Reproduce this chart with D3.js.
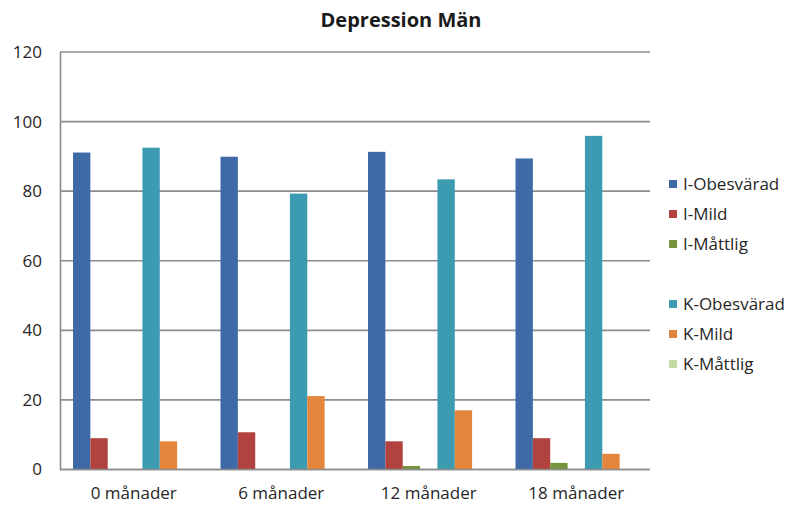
<!DOCTYPE html>
<html>
<head>
<meta charset="utf-8">
<script src="https://cdn.jsdelivr.net/npm/d3@7"></script>
<style>
  html, body { margin: 0; padding: 0; background: #fff; }
  svg { display: block; font-family: "Open Sans", "DejaVu Sans", sans-serif; }
</style>
</head>
<body>
<svg id="chart" width="792" height="506"></svg>
<script>
// Categories and series values (percent)
const categories = ["0 månader", "6 månader", "12 månader", "18 månader"];
const iObesvarad = [91.1, 89.9, 91.3, 89.4];
const iMild      = [9.0, 10.7, 8.1, 9.0];
const iMattlig   = [0, 0, 1.0, 1.9];
const spacer     = [null, null, null, null];
const kObesvarad = [92.5, 79.3, 83.4, 95.9];
const kMild      = [8.1, 21.1, 17.0, 4.5];
const kMattlig   = [0, 0, 0, 0];
const yTicks = [0, 20, 40, 60, 80, 100, 120];

const seriesNames  = ["I-Obesvärad", "I-Mild", "I-Måttlig", "", "K-Obesvärad", "K-Mild", "K-Måttlig"];
const seriesValues = [iObesvarad, iMild, iMattlig, spacer, kObesvarad, kMild, kMattlig];
const seriesColors = ["#3f6aa8", "#b2423f", "#74943e", "none", "#3d9bb1", "#e3863b", "#c4d9a3"];

const series = seriesNames.map((name, i) => ({
  key: "s" + i, name, color: seriesColors[i], values: seriesValues[i]
}));

const svg = d3.select("#chart");
const plot = { left: 60, right: 650, top: 52, bottom: 469.5 };

const x0 = d3.scaleBand().domain(categories).range([plot.left, plot.right]).paddingInner(0).paddingOuter(0);
const x1 = d3.scaleBand().domain(series.map(s => s.key)).range([0, x0.bandwidth()])
  .paddingInner(0).paddingOuter(0.75);
const y = d3.scaleLinear().domain([0, 120]).range([plot.bottom, plot.top]);

const gridColor = "#8c8c8c";
const textColor = "#262626";

// horizontal gridlines
svg.append("g")
  .selectAll("line")
  .data(yTicks)
  .join("line")
  .attr("x1", plot.left).attr("x2", plot.right)
  .attr("y1", d => y(d)).attr("y2", d => y(d))
  .attr("stroke", gridColor).attr("stroke-width", 1.6);

// value axis
const yAxis = svg.append("g")
  .attr("transform", `translate(${plot.left},0)`)
  .call(d3.axisLeft(y).tickValues(yTicks).tickSize(0).tickPadding(18));
yAxis.select(".domain").attr("stroke", gridColor).attr("stroke-width", 1.6);
yAxis.selectAll("text")
  .attr("font-size", 17).attr("fill", textColor)
  .attr("font-family", "Open Sans, sans-serif");

// bars
const groups = svg.append("g")
  .selectAll("g")
  .data(categories)
  .join("g")
  .attr("transform", c => `translate(${x0(c)},0)`);

groups.selectAll("rect")
  .data((c, ci) => series.filter(s => s.values[ci] != null && s.values[ci] > 0)
    .map(s => ({ key: s.key, color: s.color, value: s.values[ci] })))
  .join("rect")
  .attr("x", d => x1(d.key))
  .attr("width", x1.bandwidth())
  .attr("y", d => y(d.value))
  .attr("height", d => y(0) - y(d.value))
  .attr("fill", d => d.color);

// category axis baseline
svg.append("line")
  .attr("x1", plot.left).attr("x2", plot.right)
  .attr("y1", y(0)).attr("y2", y(0))
  .attr("stroke", gridColor).attr("stroke-width", 1.6);

// category labels
const xAxis = svg.append("g")
  .attr("transform", `translate(0,${y(0)})`)
  .call(d3.axisBottom(x0).tickSize(0).tickPadding(17));
xAxis.select(".domain").remove();
xAxis.selectAll("text")
  .attr("font-size", 17).attr("fill", textColor)
  .attr("font-family", "Open Sans, sans-serif");

// title
svg.append("text")
  .attr("x", 401).attr("y", 27)
  .attr("text-anchor", "middle")
  .attr("font-size", 20).attr("font-weight", "bold")
  .attr("fill", "#1a1a1a")
  .text("Depression Män");

// legend
const legend = svg.append("g").attr("transform", "translate(669,184)");
const item = legend.selectAll("g")
  .data(series)
  .join("g")
  .attr("transform", (d, i) => `translate(0,${i * 30})`);
item.filter(d => d.name !== "").append("rect")
  .attr("x", 0).attr("y", -4).attr("width", 8).attr("height", 8)
  .attr("fill", d => d.color);
item.append("text")
  .attr("x", 14).attr("y", 6)
  .attr("font-size", 17).attr("fill", textColor)
  .text(d => d.name);
</script>
</body>
</html>
